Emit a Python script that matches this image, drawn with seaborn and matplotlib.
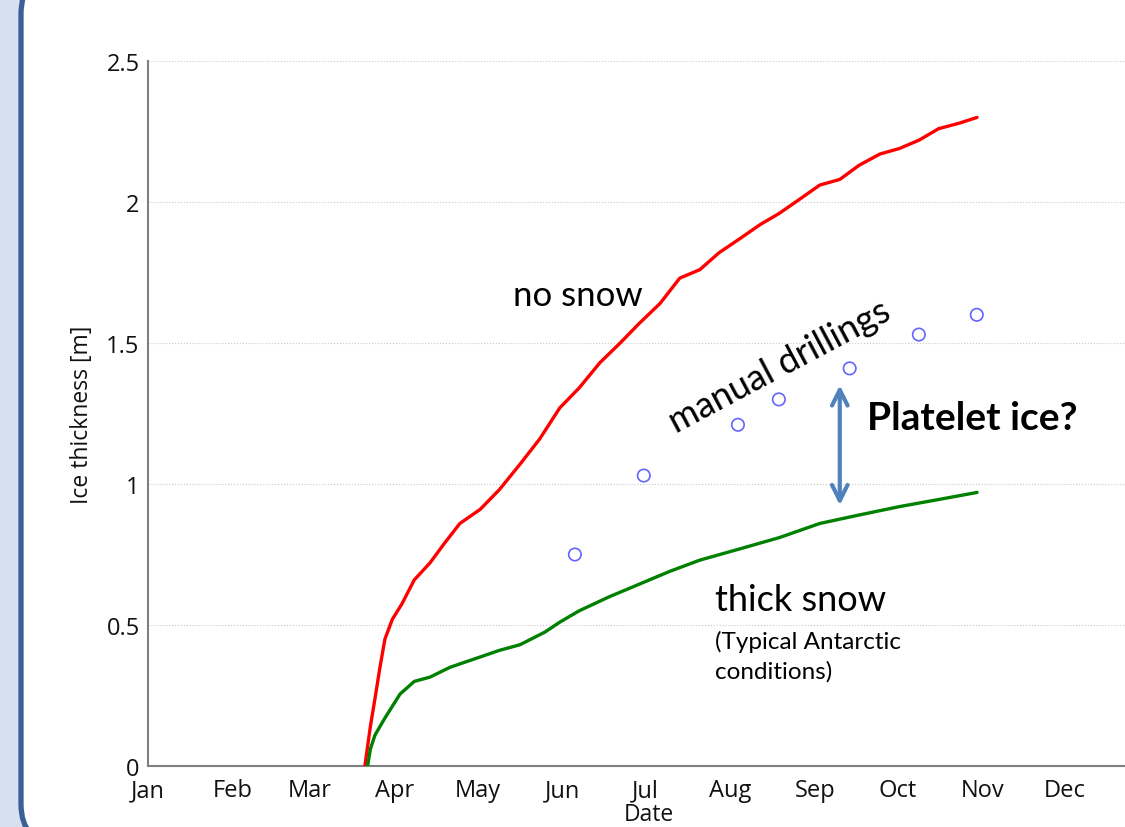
import numpy as np
import pandas as pd
import matplotlib
matplotlib.use("Agg")
import matplotlib.pyplot as plt
from matplotlib.patches import FancyBboxPatch
import seaborn as sns

# --- data (day of year, ice thickness in m) ---
no_snow_day = [79, 81, 82.7, 84.5, 86.3, 89, 92.5, 97, 102.7, 108, 113.6, 121, 128, 135.5,
               142.7, 150, 157, 164.6, 172, 179, 186.5, 193.7, 201, 208, 215.6, 223, 230,
               237.4, 244.7, 252, 259, 266.6, 273.8, 281, 288, 295.7, 302]
no_snow_ice = [0.0, 0.14, 0.24, 0.35, 0.45, 0.52, 0.575, 0.66, 0.72, 0.79, 0.86, 0.91, 0.98, 1.07,
               1.16, 1.27, 1.34, 1.43, 1.50, 1.57, 1.64, 1.73, 1.76, 1.82, 1.87, 1.92, 1.96,
               2.01, 2.06, 2.08, 2.13, 2.17, 2.19, 2.22, 2.26, 2.28, 2.30]

thick_snow_day = [80, 81, 82.7, 86.3, 91.8, 97, 102.7, 110, 119, 128, 135.5, 144.6, 150, 157,
                  168, 179, 190, 201, 215.6, 230, 244.7, 259, 273.8, 288, 302]
thick_snow_ice = [0.0, 0.06, 0.11, 0.17, 0.255, 0.30, 0.315, 0.35, 0.38, 0.41, 0.43, 0.475, 0.51,
                  0.55, 0.60, 0.645, 0.69, 0.73, 0.77, 0.81, 0.86, 0.89, 0.92, 0.945, 0.97]

drill_day = [155.5, 180.6, 214.9, 229.8, 255.6, 280.8, 301.9]
drill_ice = [0.75, 1.03, 1.21, 1.30, 1.41, 1.53, 1.60]

month_start = [0, 31, 59, 90, 120, 151, 181, 212, 243, 273, 304, 334]
month_names = ["Jan", "Feb", "Mar", "Apr", "May", "Jun", "Jul", "Aug", "Sep", "Oct", "Nov", "Dec"]
y_ticks = [0, 0.5, 1, 1.5, 2, 2.5]
y_tick_labels = ["0", "0.5", "1", "1.5", "2", "2.5"]

curves = pd.concat([
    pd.DataFrame({"day": no_snow_day, "ice": no_snow_ice, "case": "no snow"}),
    pd.DataFrame({"day": thick_snow_day, "ice": thick_snow_ice, "case": "thick snow"}),
])
drillings = pd.DataFrame({"day": drill_day, "ice": drill_ice})

sns.set_theme(style="white")
plt.rcParams["font.family"] = ["Open Sans", "DejaVu Sans"]
plt.rcParams["text.color"] = "#111111"

W, H = 1125, 828
fig = plt.figure(figsize=(W / 100, H / 100), dpi=100)
fig.patch.set_facecolor("#d6e0f1")

# slide panel background with rounded blue border
bg = fig.add_axes([0, 0, 1, 1], zorder=0)
bg.set_xlim(0, W)
bg.set_ylim(H, 0)
bg.axis("off")
bg.add_patch(FancyBboxPatch((21, -25), 1300, 870, boxstyle="round,pad=0,rounding_size=40",
                            facecolor="white", edgecolor="#3b5f97", linewidth=3.8))

ax = fig.add_axes([148 / W, 1 - 767 / H, (1150 - 148) / W, (767 - 62) / H], zorder=1)
ax.patch.set_alpha(0)

sns.lineplot(data=curves, x="day", y="ice", hue="case",
             palette={"no snow": "#ff0000", "thick snow": "#008000"},
             linewidth=2.4, legend=False, ax=ax, zorder=3)
sns.scatterplot(data=drillings, x="day", y="ice", marker="o", s=80,
                facecolor="none", edgecolor="#6464ff", linewidth=1.2, ax=ax, zorder=4)

ax.set_xlim(0, 365)
ax.set_ylim(0, 2.5)
ax.set_xticks(month_start)
ax.set_xticklabels(month_names)
ax.set_yticks(y_ticks)
ax.set_yticklabels(y_tick_labels)
ax.tick_params(direction="in", length=7, width=1.2, color="#808080",
               labelsize=17, labelcolor="#111111")
ax.tick_params(axis="x", pad=9)
ax.tick_params(axis="y", pad=6)
ax.grid(axis="y", linestyle=":", color="#c8c8c8", linewidth=0.8)
for s in ["top", "right"]:
    ax.spines[s].set_visible(False)
for s in ["left", "bottom"]:
    ax.spines[s].set_color("#808080")
    ax.spines[s].set_linewidth(1.5)

ax.set_xlabel("Date", fontsize=16.5, labelpad=0, color="#111111")
ax.set_ylabel("Ice thickness [m]", fontsize=16.5, labelpad=9, color="#111111")

# annotations
ann = ["Lato", "DejaVu Sans"]
ax.text(156.6, 1.67, "no snow", fontsize=25, family=ann, ha="center", va="center", color="black")
ax.text(230, 1.42, "manual drillings", fontsize=26, family=ann, ha="center", va="center",
        rotation=28, rotation_mode="anchor", color="black")
ax.text(206.5, 0.59, "thick snow", fontsize=26, family=ann, ha="left", va="center", color="black")
ax.text(206.5, 0.39, "(Typical Antarctic\nconditions)", fontsize=17.5, family=ann,
        ha="left", va="center", linespacing=1.45, color="black")
ax.text(262, 1.235, "Platelet ice?", fontsize=28, family=ann, fontweight="bold",
        ha="left", va="center", color="black")
ax.annotate("", xy=(252, 1.35), xytext=(252, 0.925),
            arrowprops=dict(arrowstyle="<->", color="#4f81bd", lw=3, mutation_scale=28,
                            shrinkA=0, shrinkB=0))

fig.savefig("out.png", dpi=100, facecolor=fig.get_facecolor())
